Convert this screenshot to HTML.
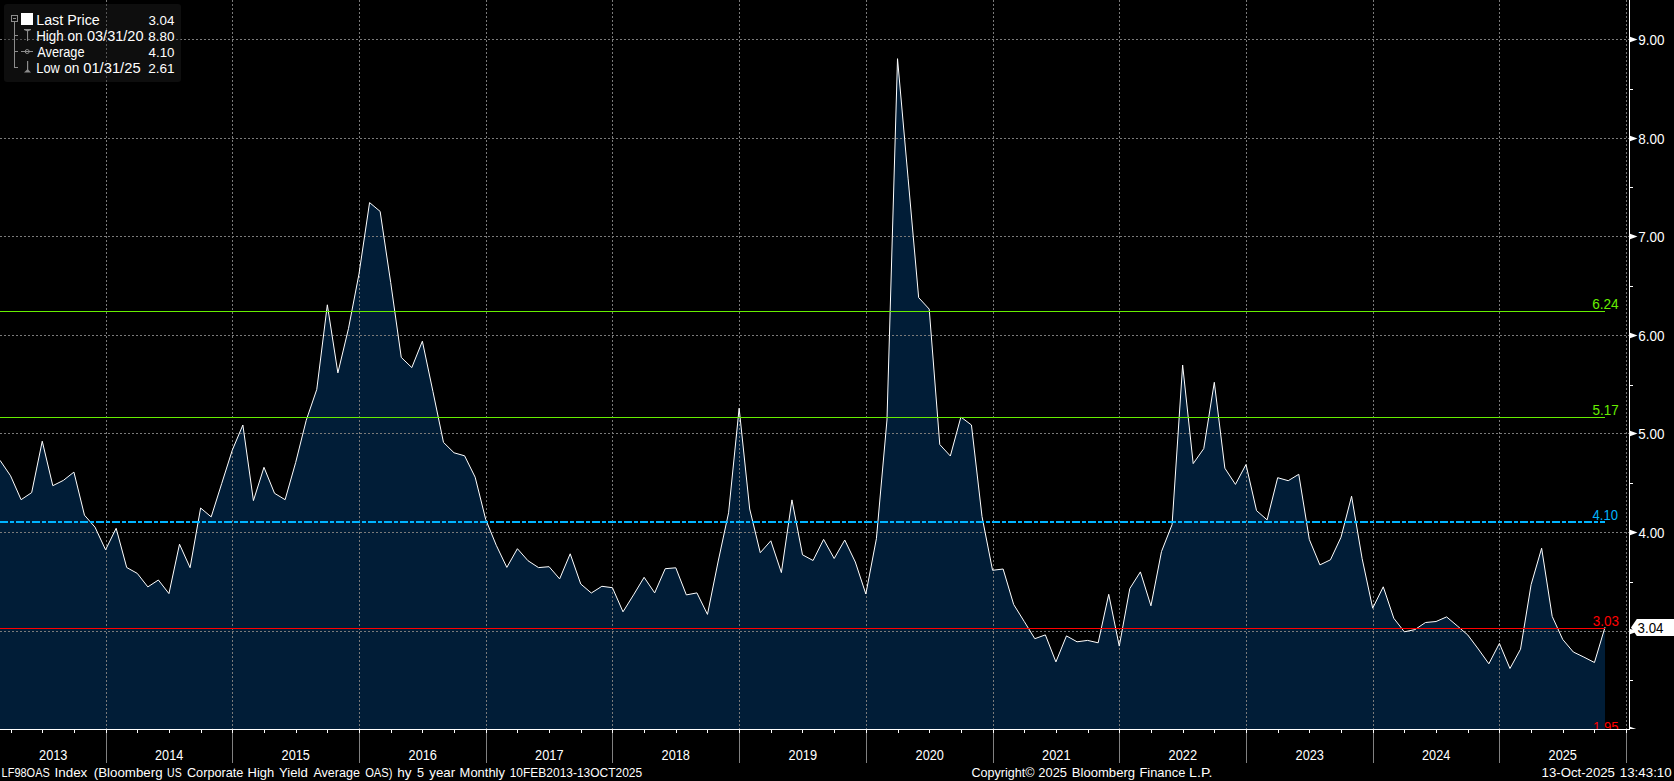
<!DOCTYPE html><html><head><meta charset="utf-8"><style>html,body{margin:0;padding:0;background:#000;}svg{display:block}text{font-family:"Liberation Sans", sans-serif;}</style></head><body>
<svg width="1674" height="781" viewBox="0 0 1674 781">
<rect width="1674" height="781" fill="#000"/>
<polygon points="0.0,729 0.0,460.3 10.56,475.8 21.12,499.7 31.68,492.6 42.24,441.2 52.8,485.7 63.36,480.4 73.91,472.1 84.47,515.2 95.03,527.2 105.59,549.8 116.15,528.3 126.71,567.5 137.27,573.4 147.83,586.9 158.39,580.0 168.95,593.6 179.51,544.2 190.07,567.7 200.62,508.0 211.18,516.9 221.74,483.4 232.3,450.1 242.86,425.0 253.42,500.6 263.98,467.3 274.54,493.3 285.1,499.7 295.66,462.5 306.22,420.3 316.78,389.4 327.34,304.8 337.89,372.9 348.45,328.7 359.01,273.9 369.57,202.6 380.13,211.4 390.69,282.5 401.25,357.4 411.81,367.6 422.37,341.2 432.93,391.5 443.49,442.4 454.05,452.8 464.6,455.8 475.16,477.2 485.72,519.5 496.28,545.3 506.84,567.4 517.4,548.7 527.96,560.7 538.52,567.6 549.08,566.7 559.64,578.9 570.2,553.8 580.76,584.0 591.32,593.0 601.87,586.3 612.43,587.7 622.99,611.8 633.55,594.9 644.11,577.3 654.67,592.9 665.23,568.7 675.79,567.8 686.35,594.9 696.91,592.9 707.47,614.4 718.03,562 728.58,512.8 739.14,408.2 749.7,509 760.26,552.7 770.82,540.8 781.38,572.6 791.94,499.9 802.5,554.8 813.06,560.5 823.62,539.4 834.18,558.5 844.74,540.0 855.3,562.0 865.85,594.0 876.41,538.6 886.97,420 897.53,58.7 908.09,178.15 918.65,297.6 929.21,309.1 939.77,444.5 950.33,456 960.89,417.0 971.45,425 982.01,516.5 992.56,570.3 1003.12,569.0 1013.68,604.5 1024.24,621.5 1034.8,638.7 1045.36,634.9 1055.92,661.9 1066.48,635.9 1077.04,641.8 1087.6,640.4 1098.16,642.8 1108.72,594.3 1119.28,646.1 1129.83,588.5 1140.39,571.9 1150.95,605.8 1161.51,551.5 1172.07,524.6 1182.63,365.0 1193.19,463.6 1203.75,448.6 1214.31,382.3 1224.87,468.2 1235.43,484.4 1245.99,464.5 1256.54,510.6 1267.1,519.9 1277.66,477.7 1288.22,480.7 1298.78,474.3 1309.34,539.5 1319.9,564.9 1330.46,559.8 1341.02,537.2 1351.58,496.2 1362.14,558.6 1372.7,608.2 1383.26,586.8 1393.81,618.3 1404.37,631.8 1414.93,629.6 1425.49,622.5 1436.05,621.5 1446.61,616.9 1457.17,625.8 1467.73,634.9 1478.29,649.0 1488.85,663.8 1499.41,643.4 1509.97,668.5 1520.52,649.2 1531.08,584.7 1541.64,548.2 1552.2,616.4 1562.76,639.5 1573.32,652.0 1583.88,657.1 1594.44,662.5 1605.0,627.2 1605.0,729" fill="#011d37"/>
<g stroke="#7a7a7a" stroke-width="1" stroke-dasharray="2 2" shape-rendering="crispEdges"><line x1="0" y1="631.5" x2="1629" y2="631.5"/><line x1="0" y1="532.5" x2="1629" y2="532.5"/><line x1="0" y1="433.5" x2="1629" y2="433.5"/><line x1="0" y1="335.5" x2="1629" y2="335.5"/><line x1="0" y1="236.5" x2="1629" y2="236.5"/><line x1="0" y1="138.5" x2="1629" y2="138.5"/><line x1="0" y1="39.5" x2="1629" y2="39.5"/><line x1="106.5" y1="0" x2="106.5" y2="729"/><line x1="232.5" y1="0" x2="232.5" y2="729"/><line x1="359.5" y1="0" x2="359.5" y2="729"/><line x1="486.5" y1="0" x2="486.5" y2="729"/><line x1="612.5" y1="0" x2="612.5" y2="729"/><line x1="739.5" y1="0" x2="739.5" y2="729"/><line x1="866.5" y1="0" x2="866.5" y2="729"/><line x1="993.5" y1="0" x2="993.5" y2="729"/><line x1="1119.5" y1="0" x2="1119.5" y2="729"/><line x1="1246.5" y1="0" x2="1246.5" y2="729"/><line x1="1373.5" y1="0" x2="1373.5" y2="729"/><line x1="1499.5" y1="0" x2="1499.5" y2="729"/><line x1="1626.5" y1="0" x2="1626.5" y2="729"/></g>
<rect x="4" y="4" width="177" height="78" rx="3" fill="rgb(34,34,34)" fill-opacity="0.42"/>
<polyline points="0.0,460.3 10.56,475.8 21.12,499.7 31.68,492.6 42.24,441.2 52.8,485.7 63.36,480.4 73.91,472.1 84.47,515.2 95.03,527.2 105.59,549.8 116.15,528.3 126.71,567.5 137.27,573.4 147.83,586.9 158.39,580.0 168.95,593.6 179.51,544.2 190.07,567.7 200.62,508.0 211.18,516.9 221.74,483.4 232.3,450.1 242.86,425.0 253.42,500.6 263.98,467.3 274.54,493.3 285.1,499.7 295.66,462.5 306.22,420.3 316.78,389.4 327.34,304.8 337.89,372.9 348.45,328.7 359.01,273.9 369.57,202.6 380.13,211.4 390.69,282.5 401.25,357.4 411.81,367.6 422.37,341.2 432.93,391.5 443.49,442.4 454.05,452.8 464.6,455.8 475.16,477.2 485.72,519.5 496.28,545.3 506.84,567.4 517.4,548.7 527.96,560.7 538.52,567.6 549.08,566.7 559.64,578.9 570.2,553.8 580.76,584.0 591.32,593.0 601.87,586.3 612.43,587.7 622.99,611.8 633.55,594.9 644.11,577.3 654.67,592.9 665.23,568.7 675.79,567.8 686.35,594.9 696.91,592.9 707.47,614.4 718.03,562 728.58,512.8 739.14,408.2 749.7,509 760.26,552.7 770.82,540.8 781.38,572.6 791.94,499.9 802.5,554.8 813.06,560.5 823.62,539.4 834.18,558.5 844.74,540.0 855.3,562.0 865.85,594.0 876.41,538.6 886.97,420 897.53,58.7 908.09,178.15 918.65,297.6 929.21,309.1 939.77,444.5 950.33,456 960.89,417.0 971.45,425 982.01,516.5 992.56,570.3 1003.12,569.0 1013.68,604.5 1024.24,621.5 1034.8,638.7 1045.36,634.9 1055.92,661.9 1066.48,635.9 1077.04,641.8 1087.6,640.4 1098.16,642.8 1108.72,594.3 1119.28,646.1 1129.83,588.5 1140.39,571.9 1150.95,605.8 1161.51,551.5 1172.07,524.6 1182.63,365.0 1193.19,463.6 1203.75,448.6 1214.31,382.3 1224.87,468.2 1235.43,484.4 1245.99,464.5 1256.54,510.6 1267.1,519.9 1277.66,477.7 1288.22,480.7 1298.78,474.3 1309.34,539.5 1319.9,564.9 1330.46,559.8 1341.02,537.2 1351.58,496.2 1362.14,558.6 1372.7,608.2 1383.26,586.8 1393.81,618.3 1404.37,631.8 1414.93,629.6 1425.49,622.5 1436.05,621.5 1446.61,616.9 1457.17,625.8 1467.73,634.9 1478.29,649.0 1488.85,663.8 1499.41,643.4 1509.97,668.5 1520.52,649.2 1531.08,584.7 1541.64,548.2 1552.2,616.4 1562.76,639.5 1573.32,652.0 1583.88,657.1 1594.44,662.5 1605.0,627.2" fill="none" stroke="#fff" stroke-width="1" stroke-linejoin="miter" stroke-miterlimit="10"/>
<line x1="0" y1="311.5" x2="1605.0" y2="311.5" stroke="#66ee00" stroke-width="1" shape-rendering="crispEdges"/>
<line x1="0" y1="417.5" x2="1605.0" y2="417.5" stroke="#66ee00" stroke-width="1" shape-rendering="crispEdges"/>
<line x1="0" y1="522" x2="1605.0" y2="522" stroke="#00b4ff" stroke-width="2" stroke-dasharray="8 2 4 2" shape-rendering="crispEdges"/>
<line x1="0" y1="628.5" x2="1605.0" y2="628.5" stroke="#ff0000" stroke-width="1" shape-rendering="crispEdges"/>
<text x="1592.21" y="309" font-size="14" fill="#66ee00" textLength="26.49" lengthAdjust="spacingAndGlyphs">6.24</text>
<text x="1592.46" y="415" font-size="14" fill="#66ee00" textLength="26.22" lengthAdjust="spacingAndGlyphs">5.17</text>
<text x="1592.50" y="520" font-size="14" fill="#00b4ff" textLength="25.41" lengthAdjust="spacingAndGlyphs">4.10</text>
<text x="1592.79" y="626" font-size="14" fill="#ff0000" textLength="26.10" lengthAdjust="spacingAndGlyphs">3.03</text>
<clipPath id="pc2"><rect x="0" y="0" width="1674" height="729"/></clipPath>
<clipPath id="pc"><rect x="0" y="0" width="1629" height="729"/></clipPath>
<g clip-path="url(#pc)"><text x="1593.00" y="732" font-size="14" fill="#ff0000" textLength="25.44" lengthAdjust="spacingAndGlyphs">1.95</text></g>
<g stroke="#fff" stroke-width="1" shape-rendering="crispEdges">
<line x1="1629.5" y1="0" x2="1629.5" y2="730"/>
<line x1="0" y1="729.5" x2="1630" y2="729.5"/>
<line x1="1629" y1="680.5" x2="1633" y2="680.5"/>
<line x1="1629" y1="582.5" x2="1633" y2="582.5"/>
<line x1="1629" y1="483.5" x2="1633" y2="483.5"/>
<line x1="1629" y1="385.5" x2="1633" y2="385.5"/>
<line x1="1629" y1="286.5" x2="1633" y2="286.5"/>
<line x1="1629" y1="187.5" x2="1633" y2="187.5"/>
<line x1="1629" y1="89.5" x2="1633" y2="89.5"/>
<line x1="11.5" y1="730" x2="11.5" y2="733"/>
<line x1="42.5" y1="730" x2="42.5" y2="733"/>
<line x1="74.5" y1="730" x2="74.5" y2="733"/>
<line x1="106.5" y1="730" x2="106.5" y2="733"/>
<line x1="137.5" y1="730" x2="137.5" y2="733"/>
<line x1="169.5" y1="730" x2="169.5" y2="733"/>
<line x1="201.5" y1="730" x2="201.5" y2="733"/>
<line x1="232.5" y1="730" x2="232.5" y2="733"/>
<line x1="264.5" y1="730" x2="264.5" y2="733"/>
<line x1="296.5" y1="730" x2="296.5" y2="733"/>
<line x1="327.5" y1="730" x2="327.5" y2="733"/>
<line x1="359.5" y1="730" x2="359.5" y2="733"/>
<line x1="391.5" y1="730" x2="391.5" y2="733"/>
<line x1="422.5" y1="730" x2="422.5" y2="733"/>
<line x1="454.5" y1="730" x2="454.5" y2="733"/>
<line x1="486.5" y1="730" x2="486.5" y2="733"/>
<line x1="517.5" y1="730" x2="517.5" y2="733"/>
<line x1="549.5" y1="730" x2="549.5" y2="733"/>
<line x1="581.5" y1="730" x2="581.5" y2="733"/>
<line x1="612.5" y1="730" x2="612.5" y2="733"/>
<line x1="644.5" y1="730" x2="644.5" y2="733"/>
<line x1="676.5" y1="730" x2="676.5" y2="733"/>
<line x1="707.5" y1="730" x2="707.5" y2="733"/>
<line x1="739.5" y1="730" x2="739.5" y2="733"/>
<line x1="771.5" y1="730" x2="771.5" y2="733"/>
<line x1="802.5" y1="730" x2="802.5" y2="733"/>
<line x1="834.5" y1="730" x2="834.5" y2="733"/>
<line x1="866.5" y1="730" x2="866.5" y2="733"/>
<line x1="898.5" y1="730" x2="898.5" y2="733"/>
<line x1="929.5" y1="730" x2="929.5" y2="733"/>
<line x1="961.5" y1="730" x2="961.5" y2="733"/>
<line x1="993.5" y1="730" x2="993.5" y2="733"/>
<line x1="1024.5" y1="730" x2="1024.5" y2="733"/>
<line x1="1056.5" y1="730" x2="1056.5" y2="733"/>
<line x1="1088.5" y1="730" x2="1088.5" y2="733"/>
<line x1="1119.5" y1="730" x2="1119.5" y2="733"/>
<line x1="1151.5" y1="730" x2="1151.5" y2="733"/>
<line x1="1183.5" y1="730" x2="1183.5" y2="733"/>
<line x1="1214.5" y1="730" x2="1214.5" y2="733"/>
<line x1="1246.5" y1="730" x2="1246.5" y2="733"/>
<line x1="1278.5" y1="730" x2="1278.5" y2="733"/>
<line x1="1309.5" y1="730" x2="1309.5" y2="733"/>
<line x1="1341.5" y1="730" x2="1341.5" y2="733"/>
<line x1="1373.5" y1="730" x2="1373.5" y2="733"/>
<line x1="1404.5" y1="730" x2="1404.5" y2="733"/>
<line x1="1436.5" y1="730" x2="1436.5" y2="733"/>
<line x1="1468.5" y1="730" x2="1468.5" y2="733"/>
<line x1="1499.5" y1="730" x2="1499.5" y2="733"/>
<line x1="1531.5" y1="730" x2="1531.5" y2="733"/>
<line x1="1563.5" y1="730" x2="1563.5" y2="733"/>
<line x1="1594.5" y1="730" x2="1594.5" y2="733"/>
<line x1="1626.5" y1="730" x2="1626.5" y2="733"/>
</g>
<g stroke="#808080" stroke-width="1" shape-rendering="crispEdges">
<line x1="106.5" y1="733" x2="106.5" y2="763"/>
<line x1="232.5" y1="733" x2="232.5" y2="763"/>
<line x1="359.5" y1="733" x2="359.5" y2="763"/>
<line x1="486.5" y1="733" x2="486.5" y2="763"/>
<line x1="612.5" y1="733" x2="612.5" y2="763"/>
<line x1="739.5" y1="733" x2="739.5" y2="763"/>
<line x1="866.5" y1="733" x2="866.5" y2="763"/>
<line x1="993.5" y1="733" x2="993.5" y2="763"/>
<line x1="1119.5" y1="733" x2="1119.5" y2="763"/>
<line x1="1246.5" y1="733" x2="1246.5" y2="763"/>
<line x1="1373.5" y1="733" x2="1373.5" y2="763"/>
<line x1="1499.5" y1="733" x2="1499.5" y2="763"/>
<line x1="1626.5" y1="733" x2="1626.5" y2="763"/>
</g>
<g clip-path="url(#pc2)"><polygon points="1630,726.7 1637.5,729.5 1630,732.3" fill="#fff"/></g>
<polygon points="1630,628.7 1637.5,631.5 1630,634.3" fill="#fff"/>
<polygon points="1630,529.7 1637.5,532.5 1630,535.3" fill="#fff"/>
<text x="1638.59" y="538" font-size="14" fill="#fff" textLength="25.93" lengthAdjust="spacingAndGlyphs">4.00</text>
<polygon points="1630,430.7 1637.5,433.5 1630,436.3" fill="#fff"/>
<text x="1638.36" y="439" font-size="14" fill="#fff" textLength="26.16" lengthAdjust="spacingAndGlyphs">5.00</text>
<polygon points="1630,332.7 1637.5,335.5 1630,338.3" fill="#fff"/>
<text x="1638.21" y="341" font-size="14" fill="#fff" textLength="26.31" lengthAdjust="spacingAndGlyphs">6.00</text>
<polygon points="1630,233.7 1637.5,236.5 1630,239.3" fill="#fff"/>
<text x="1638.21" y="242" font-size="14" fill="#fff" textLength="26.32" lengthAdjust="spacingAndGlyphs">7.00</text>
<polygon points="1630,135.7 1637.5,138.5 1630,141.3" fill="#fff"/>
<text x="1638.31" y="144" font-size="14" fill="#fff" textLength="26.21" lengthAdjust="spacingAndGlyphs">8.00</text>
<polygon points="1630,36.7 1637.5,39.5 1630,42.3" fill="#fff"/>
<text x="1638.27" y="45" font-size="14" fill="#fff" textLength="26.26" lengthAdjust="spacingAndGlyphs">9.00</text>
<polygon points="1631,627.5 1636.8,619 1674,619 1674,636 1636.8,636" fill="#fff"/>
<text x="1637.59" y="633" font-size="14" fill="#000" textLength="25.90" lengthAdjust="spacingAndGlyphs">3.04</text>
<text x="39.06" y="760" font-size="14" fill="#fff" textLength="28.40" lengthAdjust="spacingAndGlyphs">2013</text>
<text x="155.06" y="760" font-size="14" fill="#fff" textLength="28.21" lengthAdjust="spacingAndGlyphs">2014</text>
<text x="281.56" y="760" font-size="14" fill="#fff" textLength="28.38" lengthAdjust="spacingAndGlyphs">2015</text>
<text x="408.56" y="760" font-size="14" fill="#fff" textLength="28.40" lengthAdjust="spacingAndGlyphs">2016</text>
<text x="535.06" y="760" font-size="14" fill="#fff" textLength="28.49" lengthAdjust="spacingAndGlyphs">2017</text>
<text x="661.56" y="760" font-size="14" fill="#fff" textLength="28.40" lengthAdjust="spacingAndGlyphs">2018</text>
<text x="788.56" y="760" font-size="14" fill="#fff" textLength="28.45" lengthAdjust="spacingAndGlyphs">2019</text>
<text x="915.56" y="760" font-size="14" fill="#fff" textLength="28.34" lengthAdjust="spacingAndGlyphs">2020</text>
<text x="1042.06" y="760" font-size="14" fill="#fff" textLength="28.47" lengthAdjust="spacingAndGlyphs">2021</text>
<text x="1168.56" y="760" font-size="14" fill="#fff" textLength="28.49" lengthAdjust="spacingAndGlyphs">2022</text>
<text x="1295.56" y="760" font-size="14" fill="#fff" textLength="28.40" lengthAdjust="spacingAndGlyphs">2023</text>
<text x="1422.06" y="760" font-size="14" fill="#fff" textLength="28.21" lengthAdjust="spacingAndGlyphs">2024</text>
<text x="1548.56" y="760" font-size="14" fill="#fff" textLength="28.38" lengthAdjust="spacingAndGlyphs">2025</text>
<text x="1.60" y="777" font-size="12.8" fill="#fff" textLength="48.20" lengthAdjust="spacingAndGlyphs">LF98OAS</text>
<text x="54.46" y="777" font-size="12.8" fill="#fff" textLength="32.88" lengthAdjust="spacingAndGlyphs">Index</text>
<text x="93.77" y="777" font-size="12.8" fill="#fff" textLength="68.78" lengthAdjust="spacingAndGlyphs">(Bloomberg</text>
<text x="167.09" y="777" font-size="12.8" fill="#fff" textLength="14.59" lengthAdjust="spacingAndGlyphs">US</text>
<text x="186.96" y="777" font-size="12.8" fill="#fff" textLength="56.41" lengthAdjust="spacingAndGlyphs">Corporate</text>
<text x="247.64" y="777" font-size="12.8" fill="#fff" textLength="26.60" lengthAdjust="spacingAndGlyphs">High</text>
<text x="279.02" y="777" font-size="12.8" fill="#fff" textLength="28.72" lengthAdjust="spacingAndGlyphs">Yield</text>
<text x="313.38" y="777" font-size="12.8" fill="#fff" textLength="46.48" lengthAdjust="spacingAndGlyphs">Average</text>
<text x="365.17" y="777" font-size="12.8" fill="#fff" textLength="27.32" lengthAdjust="spacingAndGlyphs">OAS)</text>
<text x="397.26" y="777" font-size="12.8" fill="#fff" textLength="14.26" lengthAdjust="spacingAndGlyphs">hy</text>
<text x="416.89" y="777" font-size="12.8" fill="#fff" textLength="7.04" lengthAdjust="spacingAndGlyphs">5</text>
<text x="429.27" y="777" font-size="12.8" fill="#fff" textLength="25.85" lengthAdjust="spacingAndGlyphs">year</text>
<text x="459.64" y="777" font-size="12.8" fill="#fff" textLength="45.29" lengthAdjust="spacingAndGlyphs">Monthly</text>
<text x="509.69" y="777" font-size="12.8" fill="#fff" textLength="132.52" lengthAdjust="spacingAndGlyphs">10FEB2013-13OCT2025</text>
<text x="971.46" y="777" font-size="12.8" fill="#fff" textLength="62.93" lengthAdjust="spacingAndGlyphs">Copyright&#169;</text>
<text x="1038.35" y="777" font-size="12.8" fill="#fff" textLength="28.69" lengthAdjust="spacingAndGlyphs">2025</text>
<text x="1071.83" y="777" font-size="12.8" fill="#fff" textLength="63.21" lengthAdjust="spacingAndGlyphs">Bloomberg</text>
<text x="1139.44" y="777" font-size="12.8" fill="#fff" textLength="45.93" lengthAdjust="spacingAndGlyphs">Finance</text>
<text x="1189.13" y="777" font-size="12.8" fill="#fff" textLength="23.27" lengthAdjust="spacingAndGlyphs">L.P.</text>
<text x="1541.59" y="777" font-size="12.8" fill="#fff" textLength="73.36" lengthAdjust="spacingAndGlyphs">13-Oct-2025</text>
<text x="1619.78" y="777" font-size="12.8" fill="#fff" textLength="51.94" lengthAdjust="spacingAndGlyphs">13:43:10</text>
<g stroke="#8c8c8c" stroke-width="1" fill="none" shape-rendering="crispEdges">
<rect x="11.5" y="15.5" width="6" height="6"/>
<line x1="13" y1="18.5" x2="16" y2="18.5"/>
<line x1="14.5" y1="22" x2="14.5" y2="68"/>
<line x1="14" y1="35.5" x2="18" y2="35.5"/>
<line x1="14" y1="51.5" x2="18" y2="51.5"/>
<line x1="14" y1="67.5" x2="18" y2="67.5"/>
</g>
<rect x="21" y="13" width="12" height="12" fill="#fff"/>
<g stroke="#8c8c8c" fill="#8c8c8c">
<polygon points="24,29 31,29 31,30 28.1,31.3 28.1,41 27,41 27,31.3 24,30" stroke="none"/>
<line x1="21" y1="51.5" x2="33" y2="51.5" stroke-width="1"/><circle cx="27.2" cy="51.5" r="2" fill="none" stroke-width="1"/>
<rect x="27" y="61" width="1.2" height="11" stroke="none"/><polygon points="27.6,69 31,72.5 24,72.5" stroke="none"/>
</g>
<text x="36.23" y="25" font-size="14" fill="#fff" textLength="63.51" lengthAdjust="spacingAndGlyphs">Last Price</text>
<text x="36.20" y="41" font-size="14" fill="#fff" textLength="27.46" lengthAdjust="spacingAndGlyphs">High</text>
<text x="67.53" y="41" font-size="14" fill="#fff" textLength="15.16" lengthAdjust="spacingAndGlyphs">on</text>
<text x="86.93" y="41" font-size="14" fill="#fff" textLength="56.64" lengthAdjust="spacingAndGlyphs">03/31/20</text>
<text x="37.28" y="57" font-size="14" fill="#fff" textLength="47.29" lengthAdjust="spacingAndGlyphs">Average</text>
<text x="36.25" y="73" font-size="14" fill="#fff" textLength="23.52" lengthAdjust="spacingAndGlyphs">Low</text>
<text x="64.23" y="73" font-size="14" fill="#fff" textLength="15.16" lengthAdjust="spacingAndGlyphs">on</text>
<text x="83.22" y="73" font-size="14" fill="#fff" textLength="57.40" lengthAdjust="spacingAndGlyphs">01/31/25</text>
<text x="148.39" y="25" font-size="13.5" fill="#fff" textLength="26.00" lengthAdjust="spacingAndGlyphs">3.04</text>
<text x="148.31" y="41" font-size="13.5" fill="#fff" textLength="26.21" lengthAdjust="spacingAndGlyphs">8.80</text>
<text x="148.59" y="57" font-size="13.5" fill="#fff" textLength="25.93" lengthAdjust="spacingAndGlyphs">4.10</text>
<text x="148.22" y="73" font-size="13.5" fill="#fff" textLength="26.45" lengthAdjust="spacingAndGlyphs">2.61</text>
</svg></body></html>
